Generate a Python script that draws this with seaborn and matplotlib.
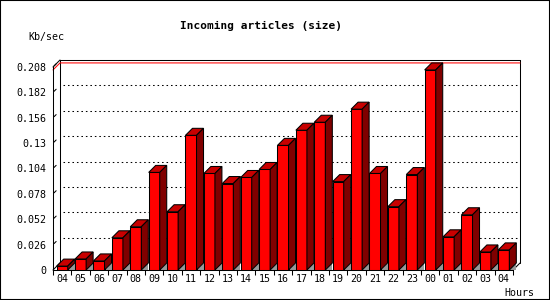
import numpy as np
import pandas as pd
import matplotlib
matplotlib.use("Agg")
import matplotlib.pyplot as plt
import seaborn as sns
from matplotlib.patches import Polygon, Rectangle

# ---- data ----
hours = ["04", "05", "06", "07", "08", "09", "10", "11", "12", "13", "14", "15",
         "16", "17", "18", "19", "20", "21", "22", "23", "00", "01", "02", "03", "04"]
values = [0.004, 0.0113, 0.0093, 0.033, 0.0443, 0.100, 0.0597, 0.138, 0.0989, 0.0886,
          0.0948, 0.103, 0.1277, 0.1432, 0.1514, 0.0906, 0.1648, 0.0989, 0.0649, 0.0978,
          0.205, 0.034, 0.0566, 0.0185, 0.0206]
yticks = [0, 0.026, 0.052, 0.078, 0.104, 0.13, 0.156, 0.182, 0.208]
title = "Incoming articles (size)"
ylabel = "Kb/sec"
xlabel = "Hours"

sns.set_style("white")
plt.rcParams["font.family"] = ["DejaVu Sans Mono", "DejaVu Sans"]

W, H = 550, 300
fig = plt.figure(figsize=(W / 100, H / 100), dpi=100)
ax_left, ax_bottom, ax_w, ax_h = 53, 30, 460, 203
ax = fig.add_axes([ax_left / W, ax_bottom / H, ax_w / W, ax_h / H])

n = len(values)
ymax_axis = yticks[-1]
lw = 0.75
df = pd.DataFrame({"slot": list(range(n)), "value": values})
sns.barplot(data=df, x="slot", y="value", color="#ff0000", saturation=1,
            width=0.6, edgecolor="black", linewidth=lw, ax=ax, zorder=3)

ax.set_xlim(-0.5, n - 0.5)
ax.set_ylim(0, ymax_axis)

# depth in data units (7 px right, 7 px up)
DX = 7 * n / ax_w
DY = 7 * ymax_axis / ax_h

for p in list(ax.patches):
    x0 = p.get_x()
    w = p.get_width()
    h = p.get_height()
    x1 = x0 + w
    shadow = Polygon([(x1, 0), (x1 + DX, 0), (x1 + DX, DY)], closed=True,
                     fc="#999999", ec="none", zorder=2.5, clip_on=False)
    top = Polygon([(x0, h), (x1, h), (x1 + DX, h + DY), (x0 + DX, h + DY)], closed=True,
                  fc="#c80000", ec="black", lw=lw, zorder=3, clip_on=False)
    side = Polygon([(x1, 0), (x1, h), (x1 + DX, h + DY), (x1 + DX, DY)], closed=True,
                   fc="#800000", ec="black", lw=lw, zorder=3, clip_on=False)
    ax.add_patch(shadow)
    ax.add_patch(top)
    ax.add_patch(side)

L, R = -0.5, n - 0.5
# back wall gridlines (dotted)
for t in yticks[1:-1]:
    ax.plot([L + DX + 0.15, R + DX], [t + DY, t + DY], color="black", lw=lw,
            ls=(0, (1.5, 2.8)), zorder=1, clip_on=False)
# back wall frame
ax.plot([L + DX, L + DX], [DY, ymax_axis + DY], color="black", lw=lw, zorder=1.2, clip_on=False)
ax.plot([L + DX, R + DX], [ymax_axis + DY] * 2, color="black", lw=lw, zorder=1.2, clip_on=False)
ax.plot([R + DX, R + DX], [DY, ymax_axis + DY], color="black", lw=lw, zorder=1.2, clip_on=False)
# side-wall top diagonal and floor diagonals
ax.plot([L, L + DX], [ymax_axis, ymax_axis + DY], color="black", lw=lw, zorder=1.2, clip_on=False)
ax.plot([L, L + DX], [0, DY], color="black", lw=lw, zorder=1.2, clip_on=False)
ax.plot([R, R + DX], [0, DY], color="black", lw=lw, zorder=1.2, clip_on=False)
# max line (red)
vmax = max(values)
ax.plot([L, L + DX, R + DX], [vmax, vmax + DY, vmax + DY], color="#ff0000", lw=lw,
        zorder=1.3, clip_on=False)
# tiny diagonal y tick marks on side wall
for t in yticks[1:]:
    ax.plot([L + 0.15 * DX, L + 0.45 * DX], [t + 0.15 * DY, t + 0.45 * DY],
            color="black", lw=lw, zorder=1.2, clip_on=False)

# spines
for s in ["top", "right"]:
    ax.spines[s].set_visible(False)
for s in ["left", "bottom"]:
    ax.spines[s].set_color("black")
    ax.spines[s].set_linewidth(lw)

# y ticks
ax.set_yticks(yticks)
ax.set_yticklabels([f"{t:g}" for t in yticks])
ax.tick_params(axis="y", length=0, pad=5, labelsize=7.2, colors="black")

# x ticks: marks at boundaries, labels at centers
ax.set_xticks(np.arange(-0.5, n, 1.0))
ax.set_xticklabels([])
ax.set_xticks(np.arange(n), minor=True)
ax.set_xticklabels(hours, minor=True)
ax.tick_params(axis="x", which="major", length=3.8, width=lw, direction="out",
               bottom=True, colors="black")
ax.tick_params(axis="x", which="minor", length=0, pad=3.2, labelsize=7.2,
               labelcolor="black")
ax.set_xlabel("")
ax.set_ylabel("")
ax.grid(False)
ax.patch.set_alpha(0)

fig.text(261 / W, 1 - 26 / H, title, ha="center", va="center", fontsize=8,
         fontweight="bold", color="black")
fig.text(28 / W, 1 - 37 / H, ylabel, ha="left", va="center", fontsize=7.2, color="black")
fig.text(534 / W, 1 - 293 / H, xlabel, ha="right", va="center", fontsize=7.2, color="black")

fig.patches.append(Rectangle((0, 0), 1, 1, transform=fig.transFigure, fill=False,
                             ec="black", lw=1.5, zorder=10))

fig.savefig("out.png", dpi=100)
